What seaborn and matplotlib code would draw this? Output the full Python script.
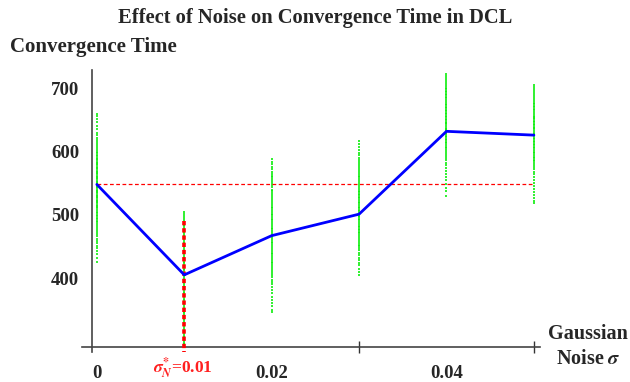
import numpy as np
import pandas as pd
import matplotlib
matplotlib.use("Agg")
import matplotlib.pyplot as plt
import seaborn as sns

noise_levels = [0.0, 0.01, 0.02, 0.03, 0.04, 0.05]
mean_time = [548, 405, 467, 501, 632, 626]
baseline_time = 548

runs_000 = [660, 656, 652, 646, 641, 636, 630, 626, 622, 618, 615, 612, 609, 606, 603, 600,
            598, 595, 593, 590, 588, 586, 584, 582, 580, 578, 576, 574, 572, 570, 568, 566,
            564, 562, 560, 558, 556, 554, 552, 550, 548, 546, 544, 542, 540, 538, 536, 534,
            532, 530, 528, 526, 524, 522, 520, 518, 516, 514, 512, 510, 508, 505, 503, 500,
            498, 495, 493, 490, 488, 485, 482, 479, 476, 473, 470, 466, 462, 458, 455, 451,
            447, 443, 438, 432, 425]
runs_001 = [504, 501, 498, 495, 492, 489, 487, 484, 482, 479, 476, 473, 471, 468, 466, 463,
            460, 457, 455, 452, 450, 447, 444, 441, 439, 436, 434, 431, 428, 425, 423, 420,
            418, 415, 412, 409, 407, 404, 402, 399, 397, 394, 392, 389, 386, 383, 381, 378,
            376, 373, 370, 367, 365, 362, 360, 357, 354, 351, 349, 346, 344, 341, 338, 335,
            333, 330, 328, 325, 322, 319, 317, 314, 312, 309, 306, 303, 301, 298, 296, 293, 291]
runs_002 = [588, 584, 580, 576, 572, 568, 565, 562, 560, 556, 553, 550, 547, 544, 540, 537,
            534, 531, 528, 525, 522, 519, 516, 513, 510, 507, 505, 502, 500, 497, 494, 491,
            488, 485, 482, 479, 477, 474, 471, 468, 466, 463, 460, 457, 455, 452, 449, 446,
            443, 440, 438, 435, 432, 429, 426, 423, 420, 417, 414, 411, 408, 404, 401, 397,
            394, 390, 386, 381, 376, 370, 365, 360, 355, 350, 346]
runs_003 = [616, 612, 608, 603, 598, 594, 590, 586, 583, 580, 577, 574, 571, 568, 565, 562,
            559, 556, 553, 550, 547, 544, 541, 538, 536, 533, 531, 528, 526, 523, 521, 518,
            516, 513, 511, 508, 506, 503, 501, 498, 496, 493, 491, 488, 486, 483, 481, 478,
            476, 473, 471, 468, 465, 462, 459, 456, 453, 450, 447, 444, 440, 436, 432, 428,
            424, 420, 415, 410, 405]
runs_004 = [722, 719, 716, 713, 710, 707, 704, 701, 699, 696, 694, 691, 689, 686, 684, 681,
            679, 676, 674, 671, 669, 666, 664, 661, 659, 657, 655, 652, 650, 647, 645, 643,
            641, 638, 636, 634, 632, 630, 628, 625, 623, 620, 618, 615, 613, 610, 608, 605,
            602, 599, 596, 593, 590, 586, 582, 578, 574, 570, 565, 560, 555, 549, 543, 537, 530]
runs_005 = [706, 702, 699, 695, 692, 689, 686, 683, 680, 677, 675, 672, 670, 667, 665, 662,
            660, 657, 655, 653, 651, 648, 646, 644, 642, 639, 637, 635, 633, 630, 628, 626,
            624, 622, 620, 617, 615, 612, 610, 607, 605, 602, 600, 597, 595, 592, 590, 587,
            585, 582, 579, 576, 572, 568, 564, 560, 555, 550, 546, 541, 536, 531, 527, 522, 518]

x_tick_labels = ["0", "", "0.02", "0.04"]
x_tick_values = [0.0, 0.01, 0.02, 0.04]
optimal_label = r"$\sigma^{*}_{N}$=0.01"
y_tick_values = [400, 500, 600, 700]

runs = [runs_000, runs_001, runs_002, runs_003, runs_004, runs_005]
scatter_df = pd.DataFrame({
    "noise": np.concatenate([[lv] * len(r) for lv, r in zip(noise_levels, runs)]),
    "time": np.concatenate(runs),
})
mean_df = pd.DataFrame({"noise": noise_levels, "time": mean_time})

sns.set_style("white")
plt.rcParams["font.family"] = ["Liberation Serif", "DejaVu Serif"]
plt.rcParams["font.weight"] = "bold"
plt.rcParams["mathtext.fontset"] = "stix"

fig = plt.figure(figsize=(6.30, 3.82), dpi=100)
W, H = 630, 382
ax_l, ax_r, ax_t, ax_b = 82, 540, 70, 352
ax = fig.add_axes([ax_l / W, 1 - ax_b / H, (ax_r - ax_l) / W, (ax_b - ax_t) / H])
ax.set_xlim(-0.0017, 0.0507)
ax.set_ylim(283, 729)

sns.scatterplot(data=scatter_df, x="noise", y="time", ax=ax, color="#11ee11",
                marker="s", s=3.5, linewidth=0, alpha=0.85, zorder=2)
ax.plot([0.01, 0.01], [490, 283], color="#ff0000", lw=2.6, ls=(0, (1.2, 0.8)), zorder=3,
        clip_on=False)
ax.plot([0.0, 0.05], [baseline_time, baseline_time], color="#ff0000", lw=0.9,
        ls=(0, (3, 2)), zorder=3)
sns.lineplot(data=mean_df, x="noise", y="time", ax=ax, color="#0000ff", lw=2, zorder=4)

for s in ["top", "right"]:
    ax.spines[s].set_visible(False)
ax.spines["left"].set_position(("data", -0.0005))
ax.spines["bottom"].set_position(("data", 291))
for s in ["left", "bottom"]:
    ax.spines[s].set_color("#444444")
    ax.spines[s].set_linewidth(1.2)

ax.set_yticks(y_tick_values)
ax.set_yticklabels([str(v) for v in y_tick_values], fontsize=13.5, fontweight="bold")
ax.tick_params(axis="y", direction="inout", length=11, width=1.2, color="#333333", pad=4)

ax.set_xticks(x_tick_values)
ax.set_xticklabels(x_tick_labels, fontsize=13.5, fontweight="bold")
ax.set_xticks([0.03, 0.05], minor=True)
ax.tick_params(axis="x", which="major", direction="inout", length=14, width=1.2,
               color="#333333", pad=6)
ax.tick_params(axis="x", which="minor", direction="inout", length=8, width=1.0,
               color="#333333", bottom=True)
ax.set_xlabel("")
ax.set_ylabel("")

fig.text(183 / W, 1 - 368 / H, optimal_label, ha="center", va="center",
         fontsize=12.5, fontweight="bold", color="#ff2020")
fig.text(315 / W, 1 - 18 / H, "Effect of Noise on Convergence Time in DCL",
         ha="center", va="center", fontsize=14.8, fontweight="bold")
fig.text(10 / W, 1 - 47 / H, "Convergence Time", ha="left", va="center",
         fontsize=15, fontweight="bold")
fig.text(588 / W, 1 - 334 / H, "Gaussian", ha="center", va="center",
         fontsize=14.5, fontweight="bold")
fig.text(588 / W, 1 - 359 / H, r"Noise $\sigma$", ha="center", va="center",
         fontsize=14.5, fontweight="bold")

fig.savefig("out.png", dpi=100, facecolor="white")
